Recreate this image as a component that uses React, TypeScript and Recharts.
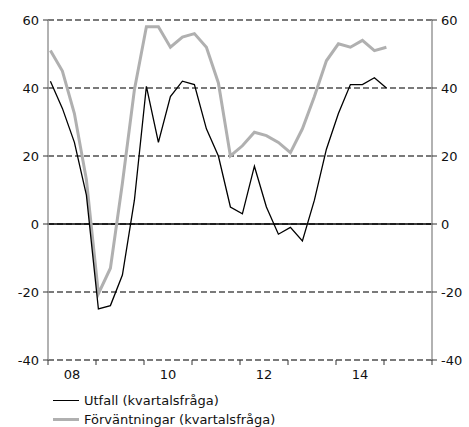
import React from 'react';
import { LineChart, Line, XAxis, YAxis, CartesianGrid, ReferenceLine } from 'recharts';

// quarterly, 2008 Q1 .. 2015 Q1
const utfall = [42, 34, 24, 8.5, -25, -24, -15, 7, 40.5, 24, 37.5, 42, 41, 28, 20, 5, 3, 17, 5, -3, -1, -5, 7, 22, 32.5, 41, 41, 43, 40];
const forvantningar = [51, 45, 32.5, 13, -20.5, -13, 12, 39.5, 58, 58, 52, 55, 56, 52, 41.5, 20, 23, 27, 26, 24, 21, 28, 37.5, 48, 53, 52, 54, 51, 52];
const yearBounds = [-0.2, 3.8, 7.8, 11.8, 15.8, 19.8, 23.8, 27.8, 31.8];
const yearLabels = ['08', '', '10', '', '12', '', '14', '', ''];
const yTicks = [-40, -20, 0, 20, 40, 60];

const data = utfall.map((u, i) => ({ q: i, utfall: u, forv: forvantningar[i] }));

const font = { fontFamily: 'DejaVu Sans', fontSize: 13, fill: '#111' };

// year label sits in the middle of its year, i.e. half a tick step to the right
const YearTick = (props: any) => {
    const { x, y, index } = props;
    const step = 384 / 8;
    const label = yearLabels[index] ?? '';
    return (
        <g>
            <line x1={x} x2={x} y1={y - 5} y2={y} stroke="#333" />
            {label && (
                <text x={x + step / 2} y={y + 14} textAnchor="middle" {...font}>{label}</text>
            )}
        </g>
    );
};

const legendItems = [
    { name: 'Utfall (kvartalsfråga)', color: '#000', w: 1.5 },
    { name: 'Förväntningar (kvartalsfråga)', color: '#b0b0b0', w: 3 },
];

export default function App() {
    return (
        <div style={{ position: 'absolute', left: 0, top: 0, width: 469, height: 427, background: '#fff' }}>
            <LineChart width={469} height={385} data={data} margin={{ top: 20, right: 0, bottom: 0, left: 0 }}>
                <CartesianGrid vertical={false} stroke="#7a7a7a" strokeWidth={2} strokeDasharray="6 3" yAxisId="left" />
                <XAxis
                    dataKey="q"
                    type="number"
                    domain={[-0.2, 31.8]}
                    ticks={yearBounds}
                    axisLine={false}
                    tickLine={false}
                    tickSize={5}
                    tickMargin={0}
                    tick={<YearTick />}
                    height={25}
                    interval={0}
                />
                <YAxis
                    yAxisId="left"
                    domain={[-40, 60]}
                    ticks={yTicks}
                    width={48}
                    axisLine={{ stroke: '#999', strokeWidth: 1.5 }}
                    tickLine={{ stroke: '#333' }}
                    tickSize={5}
                    tickMargin={4}
                    tick={font}
                    interval={0}
                />
                <YAxis
                    yAxisId="right"
                    orientation="right"
                    domain={[-40, 60]}
                    ticks={yTicks}
                    width={37}
                    axisLine={{ stroke: '#999', strokeWidth: 1.5 }}
                    tickLine={{ stroke: '#333' }}
                    tickSize={5}
                    tickMargin={4}
                    tick={font}
                    interval={0}
                />
                <ReferenceLine y={0} yAxisId="left" stroke="#000" strokeWidth={1.5} />
                <Line yAxisId="right" type="linear" dataKey="forv" name="Förväntningar (kvartalsfråga)" stroke="#b0b0b0" strokeWidth={3} dot={false} isAnimationActive={false} />
                <Line yAxisId="left" type="linear" dataKey="utfall" name="Utfall (kvartalsfråga)" stroke="#000" strokeWidth={1.3} dot={false} isAnimationActive={false} />
            </LineChart>
            <div style={{ position: 'absolute', left: 53, top: 391, fontFamily: 'DejaVu Sans', fontSize: 13, color: '#111', lineHeight: '19px' }}>
                {legendItems.map((it) => (
                    <div key={it.name} style={{ display: 'flex', alignItems: 'center' }}>
                        <span style={{ display: 'inline-block', width: 26, height: 0, borderTop: `${it.w}px solid ${it.color}`, marginRight: 5 }} />
                        {it.name}
                    </div>
                ))}
            </div>
        </div>
    );
}
